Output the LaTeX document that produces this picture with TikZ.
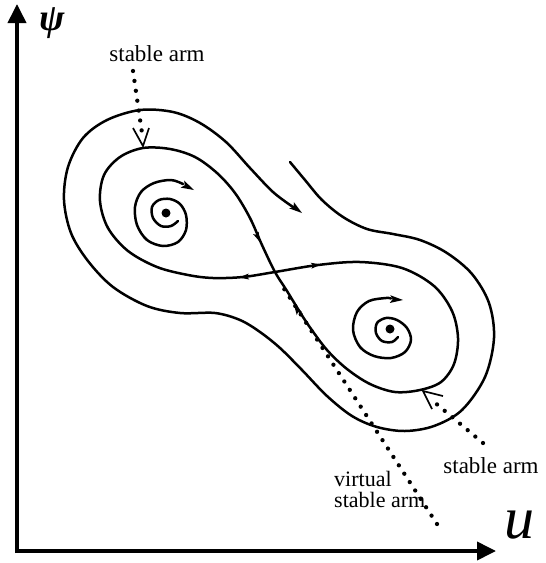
\documentclass[tikz,border=0pt]{standalone}
\usepackage{fontspec}
\setmainfont{Liberation Serif}
\usetikzlibrary{arrows.meta}
\newcommand\flowtip[4]{\fill[shift={(#1,#2)},rotate=#3,scale=#4] (0,0) -- (-1,0.3) -- (-0.8,0) -- (-1,-0.3) -- cycle;}
\tikzset{
  traj/.style={line width=2.5pt, line cap=round, line join=round},
  axis/.style={line width=3.8pt, -{Triangle[length=19pt,width=18pt]}},
  dotline/.style={line width=4.3pt, line cap=round, dash pattern=on 0pt off 10pt},
  openhead/.style={line width=1.7pt, line join=miter},
  lbl/.style={font=\fontsize{23}{23}\selectfont, inner sep=0pt},
  focus/.style={circle, fill, inner sep=0pt, minimum size=9pt},
}
\begin{document}
\begin{tikzpicture}[x=1pt,y=-1pt]
\useasboundingbox (0,0) rectangle (546,563);
% axes
\coordinate (origin) at (17,551);
\coordinate (ytip) at (17,4);
\coordinate (xtip) at (496,551);
\draw[axis] (17,553) -- (ytip);
\draw[axis] (15.1,551) -- (xtip);
\node[font=\fontsize{38}{38}\selectfont\itshape, inner sep=0pt, anchor=base west] (psi) at (39,30) {\textbf{ψ}};
\node[font=\fontsize{60}{60}\selectfont\itshape, inner sep=0pt, anchor=base west] (ulab) at (504,538) {u};

% outer trajectory
\draw[traj] plot[smooth, tension=0.55] coordinates {
 (290,162) (305,180) (322,200) (343,217) (367,229) (393,234) (420,240) (447,253)
 (472,274) (489,303) (494,338) (485,377) (462,410) (434,426) (405,431) (377,427)
 (352,416) (327,396) (302,370) (280,348) (260,332) (240,320) (215,313) (180,313)
 (147,306) (113,287) (88,261) (71,233) (64,200) (68,167) (83,138) (107,120)
 (140,110) (173,112) (200,123) (226,142) (250,168) (273,192) (293,207)};
\flowtip{302}{213}{-36.5}{13}

% figure-eight (double homoclinic loop)
\draw[traj] plot[smooth cycle, tension=0.55] coordinates {
 (275,272) (287,291) (298,309) (309,326) (327,350) (347,369) (370,384) (395,392)
 (420,390) (441,382) (454,364) (458,338) (452,311) (434,286) (402,268) (360,262)
 (318,265) (275,272) (243,277) (213,278) (188,275) (157,267) (128,251) (108,228)
 (100,201) (104,175) (120,157) (143,148) (170,149) (195,157) (217,173) (235,193)
 (250,218) (262,245)};
\flowtip{239}{277.5}{185.5}{10}
\flowtip{260}{242}{-65.6}{10}
\flowtip{321}{264.5}{7}{10}
\flowtip{294}{305}{122}{10}

% spirals
\draw[traj] plot[smooth, tension=0.55] coordinates {
 (178,221) (171,226) (161,226) (153,218) (152,207) (159,200) (170,199) (180,204)
 (186,215) (186,230) (178,242) (163,246) (147,240) (137,225) (135,207) (141,192)
 (154,183) (171,180) (183,184)};
\flowtip{194}{190}{-27}{13}
\draw[traj] plot[smooth, tension=0.55] coordinates {
 (398,337) (392,342) (382,341) (376,333) (377,323) (386,318) (397,320) (407,328)
 (411,340) (405,352) (391,358) (374,356) (360,347) (353,330) (357,312) (369,301)
 (386,298) (391,298.5)};
\flowtip{403}{300}{-4}{13}
\node[focus] (fL) at (166,213) {};
\node[focus] (fR) at (390,329) {};

% stable arms
\draw[dotline] (133,71) -- (142,133);
\draw[openhead] (133,128) -- (143,146) -- (149,128);
\draw[dotline] (483,443) -- (433,401);
\draw[openhead] (443,396) -- (423,391) -- (432,409);
\draw[dotline] (437,524) -- (279,281);

% labels
\node[lbl, anchor=base] (sa1) at (157,61) {stable arm};
\node[lbl, anchor=base] (sa2) at (491,473) {stable arm};
\node[lbl, font=\fontsize{22}{21}\selectfont, anchor=base west, align=left] (vsa) at (334,507) {virtual\\stable arm};
\end{tikzpicture}
\end{document}
